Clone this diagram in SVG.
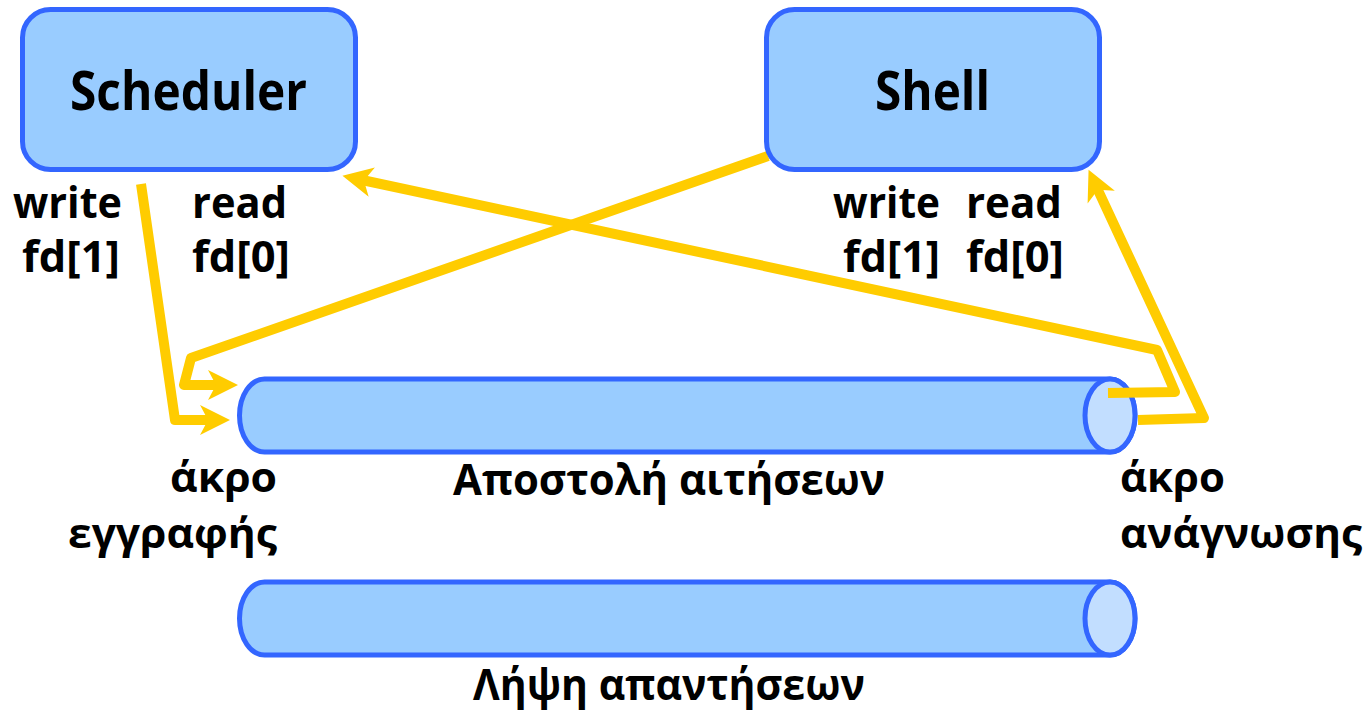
<svg xmlns="http://www.w3.org/2000/svg" width="1372" height="717" viewBox="0 0 1372 717">
  <style>
    .box { fill: #99CCFF; stroke: #3366FF; stroke-width: 5; }
    .pipe { fill: #99CCFF; stroke: #3366FF; stroke-width: 5; }
    .cap { fill: #C2DEFF; stroke: #3366FF; stroke-width: 5; }
    .wire { fill: none; stroke: #FFCC00; stroke-width: 10; stroke-linejoin: round; }
    .arrow { marker-end: url(#head); }
    text { font-family: "Open Sans", "Noto Sans", "DejaVu Sans", sans-serif; font-weight: 700; fill: #000; }
    .title { font-size: 54px; }
    .lbl { font-size: 43px; }
    .end { font-size: 41px; }
  </style>
  <defs>
    <!-- notched yellow arrowhead; the line ends at the notch -->
    <marker id="head" markerUnits="userSpaceOnUse" markerWidth="32" markerHeight="32" refX="10" refY="15" orient="auto" overflow="visible">
      <path d="M0,0 L30,15 L0,30 L8,15 Z" fill="#FFCC00"/>
    </marker>
  </defs>

  <!-- request pipe -->
  <g id="pipe-requests">
    <path class="pipe" d="M264.5,379 H1110 A25,36.5 0 0 1 1110,452 H264.5 A25,36.5 0 0 1 264.5,379 Z"/>
    <ellipse class="cap" cx="1110" cy="415.5" rx="25" ry="36.5"/>
    <text class="lbl" x="453" y="495" textLength="432" lengthAdjust="spacingAndGlyphs">Αποστολή αιτήσεων</text>
  </g>

  <!-- reply pipe -->
  <g id="pipe-replies">
    <path class="pipe" d="M264.5,582 H1110 A25,36.5 0 0 1 1110,655 H264.5 A25,36.5 0 0 1 264.5,582 Z"/>
    <ellipse class="cap" cx="1110" cy="618.5" rx="25" ry="36.5"/>
    <text class="lbl" x="473" y="700" textLength="392" lengthAdjust="spacingAndGlyphs">Λήψη απαντήσεων</text>
  </g>

  <!-- pipe end labels -->
  <g id="write-end-label">
    <text class="lbl end" x="277" y="492" text-anchor="end" textLength="107" lengthAdjust="spacingAndGlyphs">άκρο</text>
    <text class="lbl end" x="277" y="548" text-anchor="end" textLength="209" lengthAdjust="spacingAndGlyphs">εγγραφής</text>
  </g>
  <g id="read-end-label">
    <text class="lbl end" x="1120" y="492" textLength="105" lengthAdjust="spacingAndGlyphs">άκρο</text>
    <text class="lbl end" x="1120" y="548" textLength="242" lengthAdjust="spacingAndGlyphs">ανάγνωσης</text>
  </g>

  <!-- connectors -->
  <g id="connectors">
    <!-- Scheduler write end into request pipe -->
    <path class="wire arrow" d="M141,184 L175,420 L210,420"/>
    <!-- Shell write end into request pipe -->
    <path class="wire arrow" d="M768,156 L191,358 L184,385 L218,385"/>
    <!-- request pipe read end back to Scheduler -->
    <path class="wire arrow" d="M1108,393 L1175,392 L1157,350 L362,180"/>
    <!-- request pipe read end to Shell -->
    <path class="wire arrow" d="M1138,420 L1204,418 L1097,188"/>
  </g>

  <!-- Scheduler process -->
  <g id="scheduler">
    <rect class="box" x="22.5" y="9.5" width="333" height="160" rx="28"/>
    <text class="title" x="70" y="110" textLength="237" lengthAdjust="spacingAndGlyphs">Scheduler</text>
  </g>
  <g id="scheduler-fds">
    <text class="lbl" x="13" y="218" textLength="109" lengthAdjust="spacingAndGlyphs">write</text>
    <text class="lbl" x="22" y="272" textLength="98" lengthAdjust="spacingAndGlyphs">fd[1]</text>
    <text class="lbl" x="192" y="218" textLength="95" lengthAdjust="spacingAndGlyphs">read</text>
    <text class="lbl" x="192" y="272" textLength="98" lengthAdjust="spacingAndGlyphs">fd[0]</text>
  </g>

  <!-- Shell process -->
  <g id="shell">
    <rect class="box" x="766.5" y="9.5" width="333" height="160" rx="28"/>
    <text class="title" x="875" y="110" textLength="115" lengthAdjust="spacingAndGlyphs">Shell</text>
  </g>
  <g id="shell-fds">
    <text class="lbl" x="833" y="218" textLength="107" lengthAdjust="spacingAndGlyphs">write</text>
    <text class="lbl" x="843" y="272" textLength="97" lengthAdjust="spacingAndGlyphs">fd[1]</text>
    <text class="lbl" x="966" y="218" textLength="96" lengthAdjust="spacingAndGlyphs">read</text>
    <text class="lbl" x="966" y="272" textLength="98" lengthAdjust="spacingAndGlyphs">fd[0]</text>
  </g>
</svg>
